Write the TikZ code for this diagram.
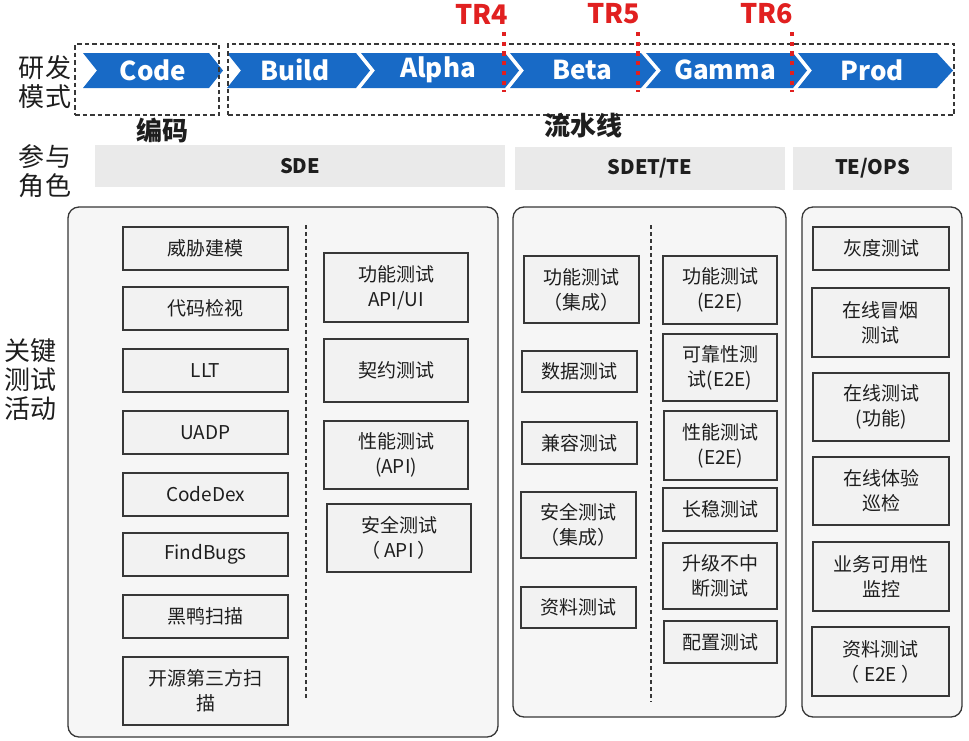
\documentclass[tikz,border=0pt]{standalone}
\usepackage{fontspec}
\setmainfont{Noto Sans CJK SC}
\usetikzlibrary{fit}
\definecolor{chevblue}{RGB}{24,106,198}
\definecolor{trred}{RGB}{225,32,32}
\definecolor{panelfill}{RGB}{246,246,246}
\definecolor{boxfill}{RGB}{242,242,242}
\definecolor{lineclr}{RGB}{55,55,55}
\definecolor{rolefill}{RGB}{234,234,234}
\definecolor{txt}{RGB}{30,30,30}
\tikzset{
  chev/.style={fill=chevblue},
  chevlabel/.style={text=white, font=\fontsize{26}{30}\selectfont\bfseries, inner sep=0},
  trlabel/.style={text=trred, font=\fontsize{27}{30}\selectfont\bfseries, inner sep=0},
  trline/.style={draw=trred, line width=4.2pt, dash pattern=on 4.2pt off 5.5pt},
  stagebox/.style={draw=lineclr, line width=1.4pt, dash pattern=on 4.5pt off 3pt, inner sep=0},
  sidelabel/.style={text=txt, font=\fontsize{26}{29}\selectfont, align=center, inner sep=0},
  grouplabel/.style={text=txt, font=\fontsize{26}{30}\selectfont\bfseries, inner sep=0},
  rolebar/.style={fill=rolefill, inner sep=0, text=txt, font=\fontsize{20}{24}\selectfont\bfseries},
  panel/.style={draw=lineclr, line width=1.3pt, fill=panelfill, rounded corners=11pt, inner sep=0},
  actbox/.style={draw=lineclr, line width=1.3pt, fill=boxfill, inner sep=0, align=center, text=txt, font=\fontsize{19}{25}\selectfont},
  divider/.style={draw=lineclr, line width=1.2pt, dash pattern=on 4pt off 3pt},
}
\begin{document}
\begin{tikzpicture}[x=1pt,y=-1pt]
\useasboundingbox[fill=white] (0,0) rectangle (969,740);

% ---- chevron band ----
\fill[chev] (83,53) -- (209,53) -- (223,70.5) -- (209,88) -- (83,88) -- (97,70.5) -- cycle;
\fill[chev] (227,53) -- (356,53) -- (370,70.5) -- (356,88) -- (227,88) -- (241,70.5) -- cycle;
\fill[chev] (361,53) -- (505,53) -- (519,70.5) -- (505,88) -- (361,88) -- (375,70.5) -- cycle;
\fill[chev] (510,53) -- (641,53) -- (656,70.5) -- (641,88) -- (510,88) -- (524,70.5) -- cycle;
\fill[chev] (646,53) -- (793,53) -- (807,70.5) -- (793,88) -- (646,88) -- (661,70.5) -- cycle;
\fill[chev] (798,53) -- (937,53) -- (953,70.5) -- (937,88) -- (798,88) -- (812,70.5) -- cycle;

\node[chevlabel] (code)  at (153,70) {Code};
\node[chevlabel] (build) at (295,70) {Build};
\node[chevlabel] (alpha) at (438,70) {Alpha};
\node[chevlabel] (beta)  at (582,70) {Beta};
\node[chevlabel] (gamma) at (725,70) {Gamma};
\node[chevlabel] (prod)  at (872,70) {Prod};

% ---- dashed stage frames ----
\node[stagebox, fit={(75,44) (219,115)}] (codeframe) {};
\node[stagebox, fit={(228,44) (954,115)}] (pipeframe) {};

% ---- TR markers ----
\node[trlabel] (tr4) at (482,14) {TR4};
\node[trlabel] (tr5) at (614,14) {TR5};
\node[trlabel] (tr6) at (767,14) {TR6};
\coordinate (tr4a) at (504,32); \coordinate (tr4b) at (504,92);
\coordinate (tr5a) at (638,32); \coordinate (tr5b) at (638,92);
\coordinate (tr6a) at (792,32); \coordinate (tr6b) at (792,92);
\draw[trline] (tr4a) -- (tr4b);
\draw[trline] (tr5a) -- (tr5b);
\draw[trline] (tr6a) -- (tr6b);

% ---- side labels ----
\node[sidelabel] (mode) at (45,82) {研发\\模式};
\node[sidelabel] (role) at (45,171) {参与\\角色};
\node[sidelabel] (act)  at (31,380) {关键\\测试\\活动};
\node[grouplabel] (bianma) at (162,130) {编码};
\node[grouplabel] (liushui) at (583,126) {流水线};

% ---- role bars ----
\node[rolebar, fit={(95,145) (505,187)}] (sde) {};
\node[rolebar, inner sep=0] at (sde.center) {SDE};
\node[rolebar, fit={(515,147) (785,190)}] (sdet) {};
\node[rolebar] at (sdet.center) {SDET/TE};
\node[rolebar, fit={(793,147) (952,190)}] (teops) {};
\node[rolebar] at (teops.center) {TE/OPS};

% ---- panels ----
\node[panel, fit={(68,207) (498,737)}] (p1) {};
\node[panel, fit={(513,207) (786,717)}] (p2) {};
\node[panel, fit={(802,207) (962,717)}] (p3) {};

\coordinate (d1a) at (306,225); \coordinate (d1b) at (306,700);
\coordinate (d2a) at (651,225); \coordinate (d2b) at (651,702);
\draw[divider] (d1a) -- (d1b);
\draw[divider] (d2a) -- (d2b);

% ---- panel 1 left ----
\node[actbox, fit={(123,227) (288,270)}] (a1) {};
\node[actbox, draw=none, fill=none] at (a1.center) {威胁建模};
\node[actbox, fit={(123,287) (288,330)}] (a2) {};
\node[actbox, draw=none, fill=none] at (a2.center) {代码检视};
\node[actbox, fit={(123,349) (288,392)}] (a3) {};
\node[actbox, draw=none, fill=none] at (a3.center) {LLT};
\node[actbox, fit={(123,411) (288,454)}] (a4) {};
\node[actbox, draw=none, fill=none] at (a4.center) {UADP};
\node[actbox, fit={(123,473) (288,516)}] (a5) {};
\node[actbox, draw=none, fill=none] at (a5.center) {CodeDex};
\node[actbox, fit={(123,533) (288,576)}] (a6) {};
\node[actbox, draw=none, fill=none] at (a6.center) {FindBugs};
\node[actbox, fit={(123,595) (288,638)}] (a7) {};
\node[actbox, draw=none, fill=none] at (a7.center) {黑鸭扫描};
\node[actbox, fit={(123,657) (288,725)}] (a8) {};
\node[actbox, draw=none, fill=none] at (a8.center) {开源第三方扫\\描};

% ---- panel 1 right ----
\node[actbox, fit={(324,253) (468,322)}] (b1) {};
\node[actbox, draw=none, fill=none] at (b1.center) {功能测试\\API/UI};
\node[actbox, fit={(324,339) (468,402)}] (b2) {};
\node[actbox, draw=none, fill=none] at (b2.center) {契约测试};
\node[actbox, fit={(324,421) (468,489)}] (b3) {};
\node[actbox, draw=none, fill=none] at (b3.center) {性能测试\\(API)};
\node[actbox, fit={(327,504) (471,572)}] (b4) {};
\node[actbox, draw=none, fill=none] at (b4.center) {安全测试\\（ API ）};

% ---- panel 2 left ----
\node[actbox, fit={(524,256) (639,323)}] (c1) {};
\node[actbox, draw=none, fill=none] at (c1.center) {功能测试\\（集成）};
\node[actbox, fit={(522,351) (637,392)}] (c2) {};
\node[actbox, draw=none, fill=none] at (c2.center) {数据测试};
\node[actbox, fit={(522,422) (637,464)}] (c3) {};
\node[actbox, draw=none, fill=none] at (c3.center) {兼容测试};
\node[actbox, fit={(521,492) (636,558)}] (c4) {};
\node[actbox, draw=none, fill=none] at (c4.center) {安全测试\\（集成）};
\node[actbox, fit={(521,587) (636,628)}] (c5) {};
\node[actbox, draw=none, fill=none] at (c5.center) {资料测试};

% ---- panel 2 right ----
\node[actbox, fit={(663,256) (777,324)}] (e1) {};
\node[actbox, draw=none, fill=none] at (e1.center) {功能测试\\(E2E)};
\node[actbox, fit={(663,334) (777,401)}] (e2) {};
\node[actbox, draw=none, fill=none] at (e2.center) {可靠性测\\试(E2E)};
\node[actbox, fit={(664,411) (777,480)}] (e3) {};
\node[actbox, draw=none, fill=none] at (e3.center) {性能测试\\(E2E)};
\node[actbox, fit={(663,488) (777,531)}] (e4) {};
\node[actbox, draw=none, fill=none] at (e4.center) {长稳测试};
\node[actbox, fit={(663,543) (777,609)}] (e5) {};
\node[actbox, draw=none, fill=none] at (e5.center) {升级不中\\断测试};
\node[actbox, fit={(664,621) (777,663)}] (e6) {};
\node[actbox, draw=none, fill=none] at (e6.center) {配置测试};

% ---- panel 3 ----
\node[actbox, fit={(813,227) (949,270)}] (f1) {};
\node[actbox, draw=none, fill=none] at (f1.center) {灰度测试};
\node[actbox, fit={(812,288) (949,357)}] (f2) {};
\node[actbox, draw=none, fill=none] at (f2.center) {在线冒烟\\测试};
\node[actbox, fit={(813,373) (949,441)}] (f3) {};
\node[actbox, draw=none, fill=none] at (f3.center) {在线测试\\(功能)};
\node[actbox, fit={(813,457) (949,525)}] (f4) {};
\node[actbox, draw=none, fill=none] at (f4.center) {在线体验\\巡检};
\node[actbox, fit={(813,542) (949,611)}] (f5) {};
\node[actbox, draw=none, fill=none] at (f5.center) {业务可用性\\监控};
\node[actbox, fit={(812,627) (949,696)}] (f6) {};
\node[actbox, draw=none, fill=none] at (f6.center) {资料测试\\（ E2E ）};
\end{tikzpicture}
\end{document}
